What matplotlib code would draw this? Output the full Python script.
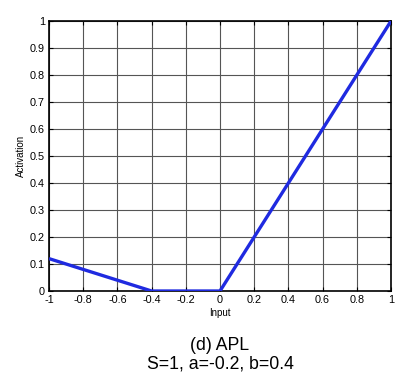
import matplotlib
matplotlib.use("Agg")
import matplotlib.pyplot as plt
import numpy as np

x = [-1.0, -0.4, 0.0, 1.0]
y = [0.12, 0.0, 0.0, 1.0]
xticks = [-1, -0.8, -0.6, -0.4, -0.2, 0, 0.2, 0.4, 0.6, 0.8, 1]
yticks = [0, 0.1, 0.2, 0.3, 0.4, 0.5, 0.6, 0.7, 0.8, 0.9, 1]
xticklabels = ["-1", "-0.8", "-0.6", "-0.4", "-0.2", "0", "0.2", "0.4", "0.6", "0.8", "1"]
yticklabels = ["0", "0.1", "0.2", "0.3", "0.4", "0.5", "0.6", "0.7", "0.8", "0.9", "1"]

plt.rcParams['font.family'] = ['Liberation Sans', 'DejaVu Sans']
fig = plt.figure(figsize=(4.07, 3.89), dpi=100)
ax = fig.add_axes([0.1204, 0.2519, 0.8403, 0.694])
ax.plot(x, y, color='#1f2ae0', lw=2.4, solid_capstyle='butt', zorder=3)
ax.set_xlim(-1, 1)
ax.set_ylim(0, 1)
ax.set_xticks(xticks)
ax.set_xticklabels(xticklabels, fontsize=7.8)
ax.set_yticks(yticks)
ax.set_yticklabels(yticklabels, fontsize=7.8)
ax.grid(True, color='#555555', lw=0.8, ls='-')
ax.tick_params(direction='in', top=True, right=True, length=3, width=0.8, pad=3)
for s in ax.spines.values():
    s.set_linewidth(1.2)
ax.set_xlabel("Input", fontsize=7, labelpad=2)
ax.set_ylabel("Activation", fontsize=7, labelpad=3)
cx = 0.1204 + 0.8403 / 2
fig.text(cx, 0.113, "(d) APL", ha='center', va='center', fontsize=12.7)
fig.text(cx, 0.064, "S=1, a=-0.2, b=0.4", ha='center', va='center', fontsize=12.7)
fig.savefig("out.png", dpi=100)
